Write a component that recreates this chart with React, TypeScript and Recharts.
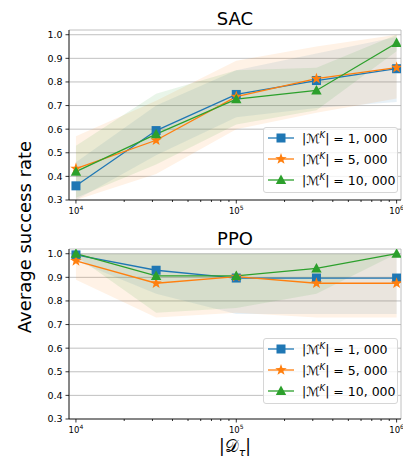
import React from 'react';
import { ComposedChart, Line, Area, XAxis, YAxis, CartesianGrid } from 'recharts';

// dataset sizes |D_tau|
const sizes = [10000, 31623, 100000, 316228, 1000000];
const majorTicks = [10000, 100000, 1000000];
const minorTicks = [20000, 30000, 40000, 50000, 60000, 70000, 80000, 90000, 200000, 300000, 400000, 500000, 600000, 700000, 800000, 900000];
const yTicks = [0.3, 0.4, 0.5, 0.6, 0.7, 0.8, 0.9, 1.0];
const seriesNames = ['1, 000', '5, 000', '10, 000'];
const colors = ['#1f77b4', '#ff7f0e', '#2ca02c'];

// SAC
const sac1k = [0.36, 0.594, 0.747, 0.806, 0.856];
const sac5k = [0.433, 0.553, 0.738, 0.814, 0.861];
const sac10k = [0.42, 0.579, 0.727, 0.764, 0.965];
const sac1kLo = [0.3, 0.49, 0.65, 0.69, 0.715];
const sac1kHi = [0.46, 0.7, 0.85, 0.92, 0.99];
const sac5kLo = [0.3, 0.41, 0.6, 0.67, 0.73];
const sac5kHi = [0.57, 0.72, 0.89, 0.95, 1.0];
const sac10kLo = [0.31, 0.45, 0.62, 0.68, 0.93];
const sac10kHi = [0.53, 0.75, 0.85, 0.86, 1.0];

// PPO
const ppo1k = [0.995, 0.93, 0.897, 0.897, 0.897];
const ppo5k = [0.97, 0.875, 0.903, 0.875, 0.875];
const ppo10k = [1.0, 0.906, 0.906, 0.9375, 1.0];
const ppo1kLo = [0.97, 0.83, 0.745, 0.745, 0.745];
const ppo1kHi = [1.0, 1.0, 1.0, 1.0, 1.0];
const ppo5kLo = [0.89, 0.73, 0.75, 0.73, 0.73];
const ppo5kHi = [1.0, 1.0, 1.0, 1.0, 1.0];
const ppo10kLo = [0.99, 0.75, 0.77, 0.83, 1.0];
const ppo10kHi = [1.0, 1.0, 1.0, 1.0, 1.0];

const xDomain = [9050, 1065000];
const font = '"DejaVu Sans", sans-serif';

function buildRows(means: number[][], los: number[][], his: number[][]) {
  return sizes.map((s, i) => ({
    size: s,
    m0: means[0][i], m1: means[1][i], m2: means[2][i],
    b0: [los[0][i], his[0][i]], b1: [los[1][i], his[1][i]], b2: [los[2][i], his[2][i]],
  }));
}

const sacRows = buildRows([sac1k, sac5k, sac10k], [sac1kLo, sac5kLo, sac10kLo], [sac1kHi, sac5kHi, sac10kHi]);
const ppoRows = buildRows([ppo1k, ppo5k, ppo10k], [ppo1kLo, ppo5kLo, ppo10kLo], [ppo1kHi, ppo5kHi, ppo10kHi]);

function starPoints(cx: number, cy: number, r: number) {
  const pts: string[] = [];
  for (let k = 0; k < 10; k++) {
    const rr = k % 2 === 0 ? r : r * 0.4;
    const a = -Math.PI / 2 + (k * Math.PI) / 5;
    pts.push(`${cx + rr * Math.cos(a)},${cy + rr * Math.sin(a)}`);
  }
  return pts.join(' ');
}

function Marker({ kind, cx, cy }: { kind: number; cx: number; cy: number }) {
  if (kind === 0) return <rect x={cx - 4.5} y={cy - 4.5} width={9} height={9} fill={colors[0]} />;
  if (kind === 1) return <polygon points={starPoints(cx, cy, 6)} fill={colors[1]} />;
  return <polygon points={`${cx},${cy - 5.5} ${cx + 5.2},${cy + 4} ${cx - 5.2},${cy + 4}`} fill={colors[2]} />;
}

function XTick(props: any) {
  const { x, y, payload } = props;
  const major = majorTicks.includes(payload.value);
  const exp = Math.round(Math.log10(payload.value));
  return (
    <g>
      <line x1={x} x2={x} y1={y} y2={y + (major ? 3.5 : 2)} stroke="#000" strokeWidth={0.8} />
      {major && (
        <text x={x} y={y + 14} textAnchor="middle" fontSize={8.5} fill="#000" fontFamily={font}>
          10<tspan dy={-4} fontSize={6}>{exp}</tspan>
        </text>
      )}
    </g>
  );
}

function Panel({ rows }: { rows: any[] }) {
  return (
    <ComposedChart width={403} height={220} data={rows} margin={{ top: 30, right: 2, left: 0, bottom: 0 }}>
      <CartesianGrid xAxisId="grid" stroke="#b0b0b0" strokeWidth={0.8} />
      <XAxis xAxisId="grid" dataKey="size" type="number" scale="log" domain={xDomain} ticks={sizes}
        allowDataOverflow tick={false} tickLine={false} axisLine={false} height={0} />
      <XAxis dataKey="size" type="number" scale="log" domain={xDomain} allowDataOverflow
        ticks={[...majorTicks, ...minorTicks]} interval={0} tick={<XTick />} tickLine={false}
        tickSize={0} tickMargin={0} axisLine={{ stroke: '#000', strokeWidth: 0.8 }} height={20} />
      <XAxis xAxisId="top" orientation="top" type="number" domain={[0, 1]} tick={false} tickLine={false}
        axisLine={{ stroke: '#000', strokeWidth: 0.8 }} height={0} />
      <YAxis domain={[0.3, 1.02]} ticks={yTicks} allowDataOverflow type="number" width={69}
        tickFormatter={(v: number) => v.toFixed(1)} tickSize={3.5} tickMargin={3}
        tick={{ fontSize: 9.5, fill: '#000', fontFamily: font }}
        tickLine={{ stroke: '#000', strokeWidth: 0.8 }} axisLine={{ stroke: '#000', strokeWidth: 0.8 }} />
      <YAxis yAxisId="right" orientation="right" type="number" domain={[0, 1]} tick={false} tickLine={false}
        axisLine={{ stroke: '#000', strokeWidth: 0.8 }} width={0} />
      {[0, 1, 2].map((k) => (
        <Area key={'b' + k} dataKey={'b' + k} type="linear" stroke="none" fill={colors[k]} fillOpacity={0.1}
          dot={false} activeDot={false} isAnimationActive={false} />
      ))}
      {[0, 1, 2].map((k) => (
        <Line key={'m' + k} dataKey={'m' + k} type="linear" stroke={colors[k]} strokeWidth={1.3}
          dot={(p: any) => <Marker key={p.index} kind={k} cx={p.cx} cy={p.cy} />}
          activeDot={false} isAnimationActive={false} />
      ))}
    </ComposedChart>
  );
}

function LegendBox({ top }: { top: number }) {
  return (
    <div style={{
      position: 'absolute', left: 263, top, width: 135, height: 66, boxSizing: 'border-box',
      background: 'rgba(255,255,255,0.8)', border: '1px solid #d6d6d6', borderRadius: 3,
      fontFamily: font, fontSize: 12.5, color: '#000',
    }}>
      {seriesNames.map((name, k) => (
        <div key={name} style={{ display: 'flex', alignItems: 'center', height: 21.3, marginTop: k === 0 ? -1 : 0 }}>
          <svg width={36} height={16} style={{ flex: 'none' }}>
            <line x1={4} x2={30} y1={8} y2={8} stroke={colors[k]} strokeWidth={1.3} />
            <Marker kind={k} cx={17} cy={8} />
          </svg>
          <span style={{ marginLeft: 2, whiteSpace: 'nowrap' }}>
            |ℳ<sup style={{ fontSize: 8.5, fontStyle: 'italic', verticalAlign: 5 }}>K</sup>| = {name}
          </span>
        </div>
      ))}
    </div>
  );
}

export default function App() {
  return (
    <div style={{ position: 'absolute', left: 0, top: 0, width: 403, height: 460, background: '#fff' }}>
      <div style={{ position: 'absolute', left: 0, top: 0 }}>
        <Panel rows={sacRows} />
      </div>
      <div style={{ position: 'absolute', left: 0, top: 219 }}>
        <Panel rows={ppoRows} />
      </div>
      <LegendBox top={127} />
      <LegendBox top={338} />
      <svg width={403} height={460} style={{ position: 'absolute', left: 0, top: 0, pointerEvents: 'none' }}>
        <text x={235} y={25} textAnchor="middle" fontSize={18} fontFamily={font}>SAC</text>
        <text x={235} y={245} textAnchor="middle" fontSize={18} fontFamily={font}>PPO</text>
        <text transform="translate(31,237) rotate(-90)" textAnchor="middle" fontSize={18} fontFamily={font}>Average success rate</text>
        <text x={235} y={452} textAnchor="middle" fontSize={17} fontFamily={font}>
          |𝒟<tspan dy={4} fontSize={11} fontStyle="italic">τ</tspan><tspan dy={-4}>|</tspan>
        </text>
      </svg>
    </div>
  );
}
